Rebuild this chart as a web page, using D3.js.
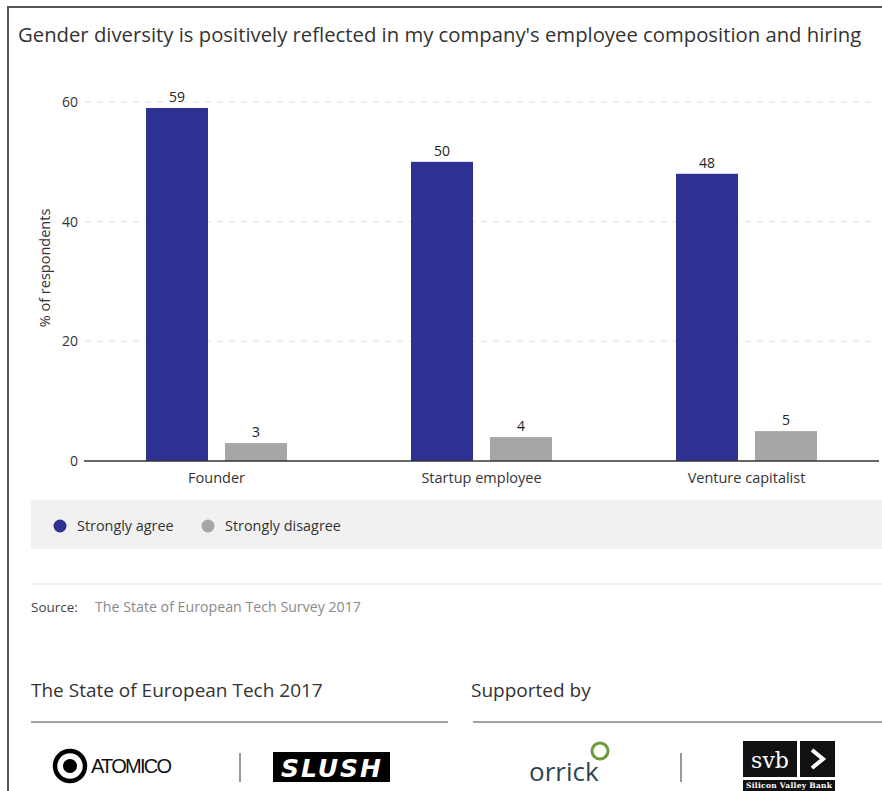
<!DOCTYPE html>
<html>
<head>
<meta charset="utf-8">
<script src="https://cdn.jsdelivr.net/npm/d3@7"></script>
<style>
  body { margin: 0; background: #fff; }
  svg { display: block; font-family: "Open Sans", "DejaVu Sans", sans-serif; }
</style>
</head>
<body>
<div id="chart"></div>
<script>
const categories = ["Founder", "Startup employee", "Venture capitalist"];
const seriesNames = ["Strongly agree", "Strongly disagree"];
const strongAgree = [59, 50, 48];
const strongDisagree = [3, 4, 5];
const yTicks = [0, 20, 40, 60];
const colors = ["#2e3192", "#a6a6a6"];

const width = 882, height = 791;

const svg = d3.select("#chart").append("svg")
    .attr("width", width)
    .attr("height", height);

// frame border
svg.append("path")
    .attr("d", "M8,791V7H882")
    .attr("fill", "none")
    .attr("stroke", "#555")
    .attr("stroke-width", 2);

// title
svg.append("text")
    .attr("x", 18).attr("y", 42)
    .attr("font-size", 20.3)
    .attr("fill", "#333")
    .text("Gender diversity is positively reflected in my company's employee composition and hiring");

const y = d3.scaleLinear().domain([0, 60]).range([461, 102]);
const x = d3.scaleBand().domain(categories).range([84, 879]);
const xs = d3.scaleBand().domain(seriesNames).range([-70.5, 70.5]).paddingInner(17 / 79);

// grid
const grid = svg.append("g");
grid.selectAll("line")
    .data(yTicks.filter(d => d > 0))
    .enter().append("line")
    .attr("x1", 85).attr("x2", 872)
    .attr("y1", d => y(d)).attr("y2", d => y(d))
    .attr("stroke", "#e0e0e0")
    .attr("stroke-dasharray", "6,6");

// y axis labels
const yAxis = svg.append("g")
    .attr("transform", "translate(78,0)")
    .call(d3.axisLeft(y).tickValues(yTicks).tickSize(0).tickPadding(0));
yAxis.select(".domain").remove();
yAxis.selectAll("text")
    .attr("font-size", 14)
    .attr("font-family", "Open Sans, sans-serif")
    .attr("fill", "#333");

svg.append("text")
    .attr("transform", "translate(50,268) rotate(-90)")
    .attr("text-anchor", "middle")
    .attr("font-size", 14.5)
    .attr("fill", "#333")
    .text("% of respondents");

// bars
const rows = categories.map((c, i) => ({
    cat: c,
    vals: [
        {name: seriesNames[0], value: strongAgree[i], color: colors[0]},
        {name: seriesNames[1], value: strongDisagree[i], color: colors[1]}
    ]
}));

const groups = svg.selectAll(".grp")
    .data(rows)
    .enter().append("g")
    .attr("class", "grp")
    .attr("transform", d => `translate(${x(d.cat) + x.bandwidth() / 2},0)`);

groups.selectAll("rect")
    .data(d => d.vals)
    .enter().append("rect")
    .attr("x", d => xs(d.name))
    .attr("width", xs.bandwidth())
    .attr("y", d => y(d.value))
    .attr("height", d => y(0) - y(d.value))
    .attr("fill", d => d.color);

groups.selectAll(".val")
    .data(d => d.vals)
    .enter().append("text")
    .attr("class", "val")
    .attr("x", d => xs(d.name) + xs.bandwidth() / 2)
    .attr("y", d => y(d.value) - 6)
    .attr("text-anchor", "middle")
    .attr("font-size", 14)
    .attr("fill", "#222")
    .text(d => d.value);

// baseline
svg.append("line")
    .attr("x1", 84).attr("x2", 879)
    .attr("y1", y(0)).attr("y2", y(0))
    .attr("stroke", "#333")
    .attr("stroke-width", 1.5);

// category labels
svg.selectAll(".cat")
    .data(categories)
    .enter().append("text")
    .attr("class", "cat")
    .attr("x", d => x(d) + x.bandwidth() / 2)
    .attr("y", 483)
    .attr("text-anchor", "middle")
    .attr("font-size", 14.5)
    .attr("fill", "#333")
    .text(d => d);

// legend
svg.append("rect")
    .attr("x", 31).attr("y", 500)
    .attr("width", 860).attr("height", 49)
    .attr("fill", "#f1f1f1");

const legX = [60, 208];
const leg = svg.selectAll(".leg")
    .data(seriesNames)
    .enter().append("g")
    .attr("class", "leg")
    .attr("transform", (d, i) => `translate(${legX[i]},526)`);
leg.append("circle").attr("r", 6.5).attr("fill", (d, i) => colors[i]);
leg.append("text")
    .attr("x", 17).attr("y", 5)
    .attr("font-size", 14.4)
    .attr("fill", "#333")
    .text(d => d);

// divider + source
svg.append("line")
    .attr("x1", 31).attr("x2", 882)
    .attr("y1", 584).attr("y2", 584)
    .attr("stroke", "#e4e4e4");

svg.append("text")
    .attr("x", 31).attr("y", 612)
    .attr("font-size", 13.5)
    .attr("fill", "#444")
    .text("Source:");
svg.append("text")
    .attr("x", 95).attr("y", 612)
    .attr("font-size", 14.2)
    .attr("fill", "#8a8a8a")
    .text("The State of European Tech Survey 2017");

// footer
svg.append("text")
    .attr("x", 31).attr("y", 697)
    .attr("font-size", 19)
    .attr("fill", "#333")
    .text("The State of European Tech 2017");
svg.append("text")
    .attr("x", 471).attr("y", 697)
    .attr("font-size", 19)
    .attr("fill", "#333")
    .text("Supported by");

svg.append("line").attr("x1", 31).attr("x2", 448).attr("y1", 722).attr("y2", 722).attr("stroke", "#444");
svg.append("line").attr("x1", 473).attr("x2", 882).attr("y1", 722).attr("y2", 722).attr("stroke", "#444");

// separators
[240, 681].forEach(sx => {
    svg.append("line").attr("x1", sx).attr("x2", sx).attr("y1", 753).attr("y2", 782)
        .attr("stroke", "#555").attr("stroke-width", 1.2);
});

// ATOMICO logo
const atom = svg.append("g");
atom.append("circle").attr("cx", 70).attr("cy", 766).attr("r", 15)
    .attr("fill", "none").attr("stroke", "#000").attr("stroke-width", 4.5);
atom.append("circle").attr("cx", 70).attr("cy", 766).attr("r", 7).attr("fill", "#000");
atom.append("text")
    .attr("x", 91).attr("y", 773)
    .attr("font-family", "Liberation Sans Narrow, Liberation Sans, sans-serif")
    .attr("font-size", 20)
    .attr("fill", "#111")
    .attr("textLength", 81)
    .text("ATOMICO");

// SLUSH logo
svg.append("rect").attr("x", 273).attr("y", 752).attr("width", 117).attr("height", 30).attr("fill", "#000");
svg.append("text")
    .attr("x", 331).attr("y", 777)
    .attr("text-anchor", "middle")
    .attr("font-family", "DejaVu Sans, sans-serif")
    .attr("font-weight", "bold")
    .attr("font-style", "italic")
    .attr("font-size", 25)
    .attr("fill", "#fff")
    .attr("textLength", 100)
    .text("SLUSH");

// orrick logo
svg.append("circle").attr("cx", 600).attr("cy", 751).attr("r", 8)
    .attr("fill", "none").attr("stroke", "#6c9b3c").attr("stroke-width", 3);
svg.append("text")
    .attr("x", 529).attr("y", 781)
    .attr("font-family", "Open Sans, sans-serif")
    .attr("font-size", 26)
    .attr("fill", "#2d4652")
    .text("orrick");

// svb logo
svg.append("rect").attr("x", 743).attr("y", 741).attr("width", 54).attr("height", 36).attr("fill", "#111");
svg.append("rect").attr("x", 800).attr("y", 741).attr("width", 35).attr("height", 36).attr("fill", "#111");
svg.append("rect").attr("x", 743).attr("y", 780).attr("width", 92).attr("height", 11).attr("fill", "#111");
svg.append("text")
    .attr("x", 770).attr("y", 768)
    .attr("text-anchor", "middle")
    .attr("font-family", "DejaVu Serif, serif")
    .attr("font-size", 22)
    .attr("fill", "#fff")
    .text("svb");
svg.append("path")
    .attr("d", "M812,750L823,759L812,768")
    .attr("fill", "none").attr("stroke", "#fff").attr("stroke-width", 4);
svg.append("text")
    .attr("x", 789).attr("y", 788)
    .attr("text-anchor", "middle")
    .attr("font-family", "DejaVu Serif, serif")
    .attr("font-weight", "bold")
    .attr("font-size", 7.5)
    .attr("fill", "#fff")
    .attr("textLength", 86)
    .text("Silicon Valley Bank");
</script>
</body>
</html>
